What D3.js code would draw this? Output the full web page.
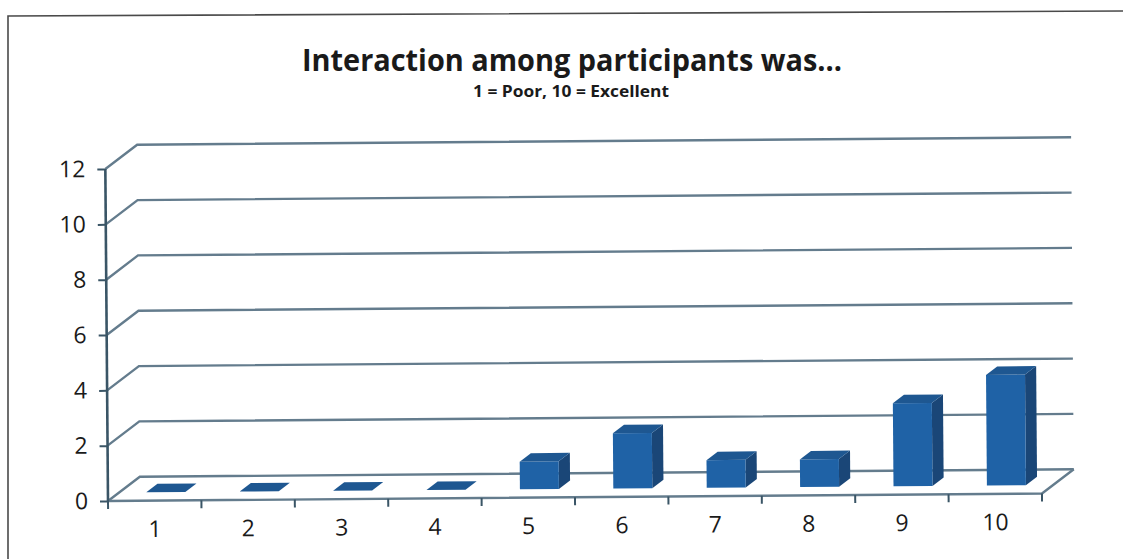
<!DOCTYPE html>
<html>
<head>
<meta charset="utf-8">
<script src="https://cdn.jsdelivr.net/npm/d3@7"></script>
<style>
  body { margin: 0; background: #fff; }
  text { font-family: "Open Sans", "DejaVu Sans", sans-serif; fill: #1a1a1a; }
</style>
</head>
<body>
<svg id="chart1"></svg>
<script>
let w = 1123;
let h = 559;

// chart data
let categories = ['1', '2', '3', '4', '5', '6', '7', '8', '9', '10'];
let counts = [0, 0, 0, 0, 1, 2, 1, 1, 3, 4];
let yTicks = [0, 2, 4, 6, 8, 10, 12];
let title = 'Interaction among participants was...';
let subtitle = '1 = Poor, 10 = Excellent';

// 3d depth offset of the back wall
let depthX = 32, depthY = -24;
let z0 = 0.35, z1 = 0.7;

let svg = d3.select('#chart1')
  .attr('width', w)
  .attr('height', h);

// scan frame
svg.append('path')
  .attr('d', 'M8,559 L8,16 L1123,11')
  .attr('fill', 'none')
  .attr('stroke', '#4a4a4a')
  .attr('stroke-width', 1.6);

svg.append('text')
  .attr('x', 572).attr('y', 71)
  .attr('text-anchor', 'middle')
  .attr('font-size', 31)
  .attr('font-weight', 700)
  .attr('textLength', 540)
  .attr('lengthAdjust', 'spacingAndGlyphs')
  .text(title);

svg.append('text')
  .attr('x', 571).attr('y', 97)
  .attr('text-anchor', 'middle')
  .attr('font-size', 16)
  .attr('font-weight', 700)
  .attr('textLength', 196)
  .attr('lengthAdjust', 'spacingAndGlyphs')
  .text(subtitle);

let xScale = d3.scaleBand()
  .domain(categories)
  .range([108, 1042]);

let yScale = d3.scaleLinear()
  .domain([0, 12])
  .range([501, 169]);

// whole plot is slightly tilted in the scan
let g = svg.append('g')
  .attr('transform', 'rotate(-0.46, 108, 501)');

let gridColor = '#647c8d';

// back wall + side wall gridlines
yTicks.forEach(t => {
  let y = yScale(t);
  g.append('path')
    .attr('d', `M${xScale.range()[0]},${y} L${xScale.range()[0] + depthX},${y + depthY} L${xScale.range()[1] + depthX},${y + depthY}`)
    .attr('fill', 'none')
    .attr('stroke', gridColor)
    .attr('stroke-width', 2.4);
});

// floor front edge and right edge
g.append('path')
  .attr('d', `M${xScale.range()[0]},${yScale(0)} L${xScale.range()[1]},${yScale(0)} L${xScale.range()[1] + depthX},${yScale(0) + depthY}`)
  .attr('fill', 'none')
  .attr('stroke', gridColor)
  .attr('stroke-width', 2.4);

// bars
let bw = 39;
let bars = g.selectAll('.bar')
  .data(categories.map((c, i) => ({ cat: c, v: counts[i] })))
  .enter()
  .append('g')
  .attr('class', 'bar');

function pt(x, y, z) { return [x + depthX * z, y + depthY * z]; }

bars.each(function(d) {
  let el = d3.select(this);
  let xl = xScale(d.cat) + (xScale.bandwidth() - bw) / 2;
  let xr = xl + bw;
  let yb = yScale(0);
  let yt = yScale(d.v);
  let poly = pts => pts.map(p => p.join(',')).join(' ');
  if (d.v > 0) {
    el.append('polygon')
      .attr('points', poly([pt(xr, yt, z0), pt(xr, yb, z0), pt(xr, yb, z1), pt(xr, yt, z1)]))
      .attr('fill', '#1a4677');
    el.append('polygon')
      .attr('points', poly([pt(xl, yt, z0), pt(xr, yt, z0), pt(xr, yb, z0), pt(xl, yb, z0)]))
      .attr('fill', '#1f62a6');
  }
  el.append('polygon')
    .attr('points', poly([pt(xl, yt, z0), pt(xr, yt, z0), pt(xr, yt, z1), pt(xl, yt, z1)]))
    .attr('fill', '#1e5791');
});

// axes
let yAxis = d3.axisLeft(yScale).tickValues(yTicks).tickSize(8).tickPadding(12);
let xAxis = d3.axisBottom(xScale).tickSize(0).tickPadding(20);

let yAxisGroup = g.append('g')
  .attr('transform', 'translate(108,0)')
  .call(yAxis);

let xAxisGroup = g.append('g')
  .attr('transform', `translate(0,${yScale(0)})`)
  .call(xAxis);

// x ticks between categories
g.selectAll('.xtick')
  .data(d3.range(categories.length + 1))
  .enter()
  .append('line')
  .attr('x1', i => 108 + xScale.step() * i)
  .attr('x2', i => 108 + xScale.step() * i)
  .attr('y1', yScale(0))
  .attr('y2', yScale(0) + 8)
  .attr('stroke', '#3a5566')
  .attr('stroke-width', 2);

[yAxisGroup, xAxisGroup].forEach(a => {
  a.selectAll('text').attr('font-size', 23).attr('fill', '#1a1a1a')
    .attr('font-family', '"Open Sans", sans-serif');
  a.selectAll('line').attr('stroke', '#3a5566').attr('stroke-width', 2);
});
yAxisGroup.select('.domain').attr('stroke', '#3a5566').attr('stroke-width', 2.6)
  .attr('d', `M0,${yScale(12)} V${yScale(0)}`);
xAxisGroup.select('.domain').remove();
</script>
</body>
</html>
